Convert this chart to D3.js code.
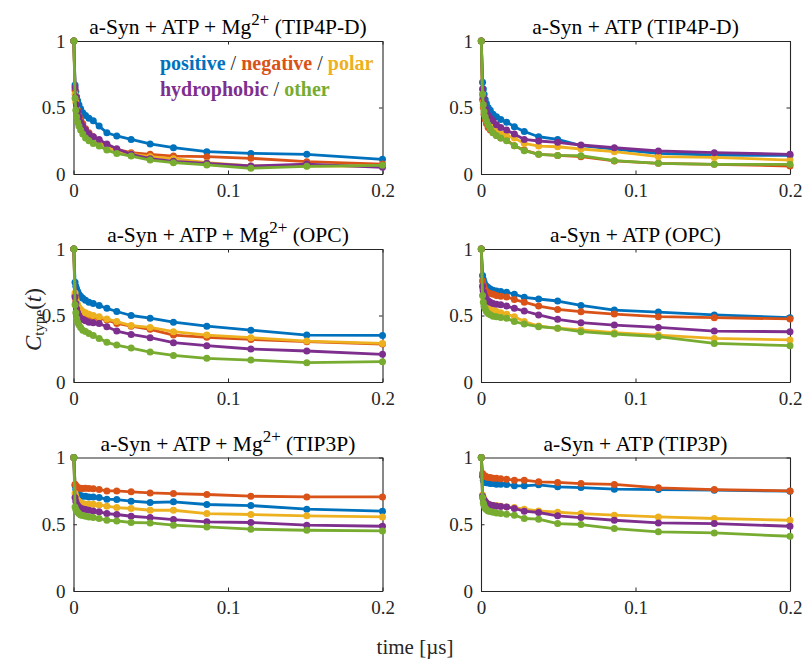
<!DOCTYPE html>
<html>
<head>
<meta charset="utf-8">
<script src="https://cdn.jsdelivr.net/npm/d3@7/dist/d3.min.js"></script>
<style>
  body { margin: 0; background: #fff; }
  svg { display: block; font-family: "Liberation Serif", "Times New Roman", serif; }
  svg text { font-family: "Liberation Serif", "Times New Roman", serif; }
</style>
</head>
<body>
<svg id="chart" width="805" height="662"></svg>
<script>
// ---------------- DATA ----------------
const times = [0.0002, 0.001, 0.0015, 0.002, 0.0027, 0.0035, 0.0046, 0.006, 0.0078, 0.0100, 0.0128,
               0.0166, 0.0216, 0.028, 0.0373, 0.0496, 0.0647, 0.0863, 0.1148, 0.151, 0.2];
const categories = ["positive", "negative", "polar", "hydrophobic", "other"];
const colors = ["#0072BD", "#D95319", "#EDB120", "#7E2F8E", "#77AC30"];
const xTicks = [0, 0.1, 0.2];
const xTickLabels = ["0", "0.1", "0.2"];
const yTicks = [0, 0.5, 1];
const yTickLabels = ["0", "0.5", "1"];

// series order: positive, negative, polar, hydrophobic, other
const tip4pdMg = [
  [1, 0.67, 0.62, 0.58, 0.55, 0.52, 0.49, 0.46, 0.44, 0.42, 0.40, 0.36, 0.31, 0.286, 0.26, 0.226, 0.198, 0.168, 0.155, 0.148, 0.11],
  [1, 0.63, 0.57, 0.52, 0.48, 0.44, 0.41, 0.38, 0.34, 0.31, 0.28, 0.25, 0.215, 0.185, 0.16, 0.148, 0.135, 0.13, 0.118, 0.093, 0.075],
  [1, 0.60, 0.54, 0.49, 0.45, 0.41, 0.38, 0.35, 0.32, 0.29, 0.26, 0.23, 0.20, 0.175, 0.15, 0.13, 0.115, 0.085, 0.06, 0.06, 0.06],
  [1, 0.65, 0.58, 0.52, 0.47, 0.43, 0.39, 0.36, 0.33, 0.30, 0.28, 0.26, 0.225, 0.19, 0.148, 0.115, 0.095, 0.08, 0.06, 0.075, 0.05],
  [1, 0.57, 0.48, 0.43, 0.39, 0.36, 0.33, 0.30, 0.27, 0.25, 0.23, 0.21, 0.18, 0.155, 0.135, 0.105, 0.085, 0.068, 0.043, 0.058, 0.065]
];
const tip4pd = [
  [1, 0.69, 0.64, 0.60, 0.56, 0.53, 0.50, 0.48, 0.45, 0.43, 0.41, 0.39, 0.356, 0.32, 0.28, 0.26, 0.213, 0.188, 0.155, 0.143, 0.14],
  [1, 0.56, 0.50, 0.45, 0.41, 0.38, 0.35, 0.33, 0.31, 0.29, 0.27, 0.255, 0.213, 0.18, 0.148, 0.14, 0.13, 0.098, 0.08, 0.073, 0.06],
  [1, 0.60, 0.54, 0.50, 0.46, 0.43, 0.40, 0.37, 0.34, 0.32, 0.30, 0.29, 0.27, 0.23, 0.21, 0.205, 0.188, 0.168, 0.13, 0.125, 0.105],
  [1, 0.64, 0.58, 0.54, 0.50, 0.47, 0.44, 0.42, 0.40, 0.37, 0.35, 0.33, 0.30, 0.26, 0.248, 0.238, 0.218, 0.198, 0.173, 0.16, 0.148],
  [1, 0.60, 0.52, 0.47, 0.43, 0.40, 0.37, 0.34, 0.31, 0.29, 0.27, 0.25, 0.213, 0.175, 0.148, 0.14, 0.138, 0.10, 0.08, 0.073, 0.073]
];
const opcMg = [
  [1, 0.75, 0.72, 0.70, 0.68, 0.66, 0.645, 0.63, 0.615, 0.60, 0.59, 0.575, 0.554, 0.53, 0.50, 0.48, 0.45, 0.42, 0.39, 0.353, 0.35],
  [1, 0.65, 0.61, 0.58, 0.56, 0.545, 0.53, 0.515, 0.505, 0.50, 0.49, 0.48, 0.466, 0.44, 0.42, 0.396, 0.353, 0.336, 0.32, 0.303, 0.285],
  [1, 0.67, 0.63, 0.60, 0.58, 0.56, 0.545, 0.53, 0.52, 0.51, 0.50, 0.49, 0.474, 0.454, 0.424, 0.41, 0.378, 0.353, 0.333, 0.308, 0.29],
  [1, 0.64, 0.59, 0.55, 0.52, 0.50, 0.48, 0.47, 0.46, 0.45, 0.445, 0.44, 0.416, 0.383, 0.358, 0.333, 0.296, 0.273, 0.248, 0.233, 0.208],
  [1, 0.58, 0.52, 0.48, 0.45, 0.43, 0.41, 0.39, 0.38, 0.365, 0.35, 0.328, 0.298, 0.278, 0.255, 0.225, 0.20, 0.178, 0.165, 0.145, 0.153]
];
const opc = [
  [1, 0.80, 0.77, 0.75, 0.73, 0.72, 0.71, 0.70, 0.69, 0.685, 0.68, 0.675, 0.66, 0.637, 0.624, 0.609, 0.576, 0.541, 0.526, 0.504, 0.484],
  [1, 0.76, 0.73, 0.71, 0.69, 0.68, 0.67, 0.665, 0.66, 0.65, 0.645, 0.64, 0.62, 0.60, 0.571, 0.546, 0.529, 0.511, 0.491, 0.484, 0.474],
  [1, 0.70, 0.65, 0.62, 0.60, 0.58, 0.56, 0.55, 0.54, 0.53, 0.52, 0.51, 0.491, 0.454, 0.421, 0.404, 0.391, 0.371, 0.353, 0.328, 0.316],
  [1, 0.72, 0.68, 0.66, 0.64, 0.62, 0.61, 0.60, 0.59, 0.585, 0.58, 0.571, 0.554, 0.534, 0.504, 0.471, 0.446, 0.428, 0.41, 0.383, 0.378],
  [1, 0.65, 0.60, 0.57, 0.55, 0.53, 0.515, 0.505, 0.495, 0.49, 0.485, 0.479, 0.454, 0.436, 0.416, 0.404, 0.378, 0.361, 0.341, 0.29, 0.273]
];
const tip3pMg = [
  [1, 0.79, 0.76, 0.74, 0.73, 0.72, 0.715, 0.71, 0.71, 0.705, 0.705, 0.70, 0.688, 0.685, 0.673, 0.663, 0.668, 0.648, 0.64, 0.613, 0.598],
  [1, 0.80, 0.79, 0.78, 0.775, 0.77, 0.77, 0.768, 0.77, 0.768, 0.766, 0.76, 0.75, 0.75, 0.743, 0.735, 0.73, 0.723, 0.71, 0.705, 0.705],
  [1, 0.73, 0.71, 0.69, 0.68, 0.67, 0.66, 0.655, 0.65, 0.65, 0.65, 0.645, 0.635, 0.625, 0.618, 0.605, 0.605, 0.58, 0.573, 0.563, 0.555],
  [1, 0.70, 0.67, 0.65, 0.64, 0.63, 0.62, 0.615, 0.61, 0.605, 0.60, 0.593, 0.58, 0.573, 0.56, 0.55, 0.535, 0.518, 0.513, 0.493, 0.485],
  [1, 0.63, 0.61, 0.60, 0.59, 0.58, 0.57, 0.565, 0.56, 0.555, 0.55, 0.543, 0.53, 0.525, 0.513, 0.51, 0.493, 0.48, 0.463, 0.455, 0.45]
];
const tip3p = [
  [1, 0.86, 0.83, 0.82, 0.815, 0.81, 0.81, 0.805, 0.805, 0.80, 0.80, 0.798, 0.788, 0.788, 0.795, 0.78, 0.775, 0.763, 0.76, 0.755, 0.748],
  [1, 0.88, 0.87, 0.865, 0.86, 0.855, 0.85, 0.85, 0.845, 0.845, 0.84, 0.838, 0.83, 0.83, 0.818, 0.813, 0.805, 0.798, 0.773, 0.76, 0.75],
  [1, 0.72, 0.70, 0.68, 0.67, 0.66, 0.65, 0.645, 0.64, 0.64, 0.635, 0.63, 0.625, 0.613, 0.60, 0.59, 0.58, 0.568, 0.555, 0.543, 0.53],
  [1, 0.71, 0.69, 0.68, 0.67, 0.66, 0.65, 0.645, 0.64, 0.635, 0.633, 0.63, 0.618, 0.598, 0.588, 0.563, 0.55, 0.53, 0.51, 0.505, 0.485],
  [1, 0.70, 0.66, 0.64, 0.62, 0.61, 0.60, 0.595, 0.59, 0.585, 0.58, 0.575, 0.568, 0.543, 0.538, 0.505, 0.498, 0.468, 0.443, 0.435, 0.41]
];

const panels = [
  { title: ["a-Syn + ATP + Mg", "2+", " (TIP4P-D)"], series: tip4pdMg, legend: true },
  { title: ["a-Syn + ATP (TIP4P-D)"], series: tip4pd },
  { title: ["a-Syn + ATP + Mg", "2+", " (OPC)"], series: opcMg },
  { title: ["a-Syn + ATP (OPC)"], series: opc },
  { title: ["a-Syn + ATP + Mg", "2+", " (TIP3P)"], series: tip3pMg },
  { title: ["a-Syn + ATP (TIP3P)"], series: tip3p }
];

// ---------------- LAYOUT ----------------
const FONT = "'Liberation Serif', 'Times New Roman', serif";
const svg = d3.select("#chart");
const textColor = "#262626";
const colX = [[73.5, 382.5], [481, 790]];
const rowY = [[41, 174], [249, 382], [457.5, 591]];

panels.forEach((p, idx) => {
  const col = idx % 2, row = Math.floor(idx / 2);
  const [xl, xr] = colX[col];
  const [yt, yb] = rowY[row];
  const x = d3.scaleLinear().domain([0, 0.2]).range([xl, xr]);
  const y = d3.scaleLinear().domain([0, 1]).range([yb, yt]);
  const g = svg.append("g");

  const fmtX = (d, i) => xTickLabels[i];
  const fmtY = (d, i) => yTickLabels[i];
  const axB = g.append("g").attr("transform", `translate(0,${yb})`)
    .call(d3.axisBottom(x).tickValues(xTicks).tickFormat(fmtX).tickSizeInner(-3.5).tickSizeOuter(0).tickPadding(10));
  const axT = g.append("g").attr("transform", `translate(0,${yt})`)
    .call(d3.axisTop(x).tickValues(xTicks).tickFormat("").tickSizeInner(-3.5).tickSizeOuter(0));
  const axL = g.append("g").attr("transform", `translate(${xl},0)`)
    .call(d3.axisLeft(y).tickValues(yTicks).tickFormat(fmtY).tickSizeInner(-3.5).tickSizeOuter(0).tickPadding(8));
  const axR = g.append("g").attr("transform", `translate(${xr},0)`)
    .call(d3.axisRight(y).tickValues(yTicks).tickFormat("").tickSizeInner(-3.5).tickSizeOuter(0));
  [axB, axT, axL, axR].forEach(a => {
    a.attr("font-family", FONT).attr("font-size", 19);
    a.selectAll("path.domain").attr("stroke", textColor).attr("stroke-width", 1.1);
    a.selectAll(".tick line").attr("stroke", textColor).attr("stroke-width", 1);
    a.selectAll(".tick text").attr("fill", textColor);
  });

  const line = d3.line().x((d, i) => x(times[i])).y(d => y(d));
  p.series.forEach((vals, si) => {
    g.append("path").datum(vals)
      .attr("d", line).attr("fill", "none")
      .attr("stroke", colors[si]).attr("stroke-width", 2.8)
      .attr("stroke-linejoin", "round");
    g.selectAll(null).data(vals).enter().append("circle")
      .attr("cx", (d, i) => x(times[i])).attr("cy", d => y(d))
      .attr("r", 3.5).attr("fill", colors[si]);
  });

  const t = g.append("text")
    .attr("x", (xl + xr) / 2).attr("y", yt - 7)
    .attr("text-anchor", "middle").attr("fill", "#000")
    .attr("font-family", FONT).attr("font-size", 21.5);
  t.append("tspan").text(p.title[0]);
  if (p.title.length > 1) {
    t.append("tspan").text(p.title[1]).attr("dy", -9).attr("font-size", 17);
    t.append("tspan").text(p.title[2]).attr("dy", 9);
  }

  if (p.legend) {
    const lg = g.append("g").attr("font-family", FONT).attr("font-size", 20);
    const l1 = lg.append("text").attr("x", 160).attr("y", 70).attr("xml:space", "preserve");
    const parts1 = [[categories[0], 0], [" / ", -1], [categories[1], 1], [" / ", -1], [categories[2], 2]];
    parts1.forEach(([s, ci]) => {
      l1.append("tspan").text(s)
        .attr("fill", ci < 0 ? textColor : colors[ci])
        .attr("font-weight", ci < 0 ? "normal" : "bold");
    });
    const l2 = lg.append("text").attr("x", 160).attr("y", 95.5).attr("xml:space", "preserve");
    const parts2 = [[categories[3], 3], [" / ", -1], [categories[4], 4]];
    parts2.forEach(([s, ci]) => {
      l2.append("tspan").text(s)
        .attr("fill", ci < 0 ? textColor : colors[ci])
        .attr("font-weight", ci < 0 ? "normal" : "bold");
    });
  }
});

// y label
const yl = svg.append("text")
  .attr("transform", "translate(41,351) rotate(-90)")
  .attr("text-anchor", "start").attr("fill", textColor)
  .attr("font-family", FONT).attr("font-size", 23);
yl.append("tspan").text("C").attr("font-style", "italic");
yl.append("tspan").text("type").attr("dy", 3).attr("font-size", 15);
yl.append("tspan").text("(").attr("dy", -3);
yl.append("tspan").text("t").attr("font-style", "italic");
yl.append("tspan").text(")");

// x label
svg.append("text")
  .attr("x", 415).attr("y", 654)
  .attr("text-anchor", "middle").attr("fill", textColor)
  .attr("font-family", FONT).attr("font-size", 21)
  .text("time [\u00B5s]");
</script>
</body>
</html>
